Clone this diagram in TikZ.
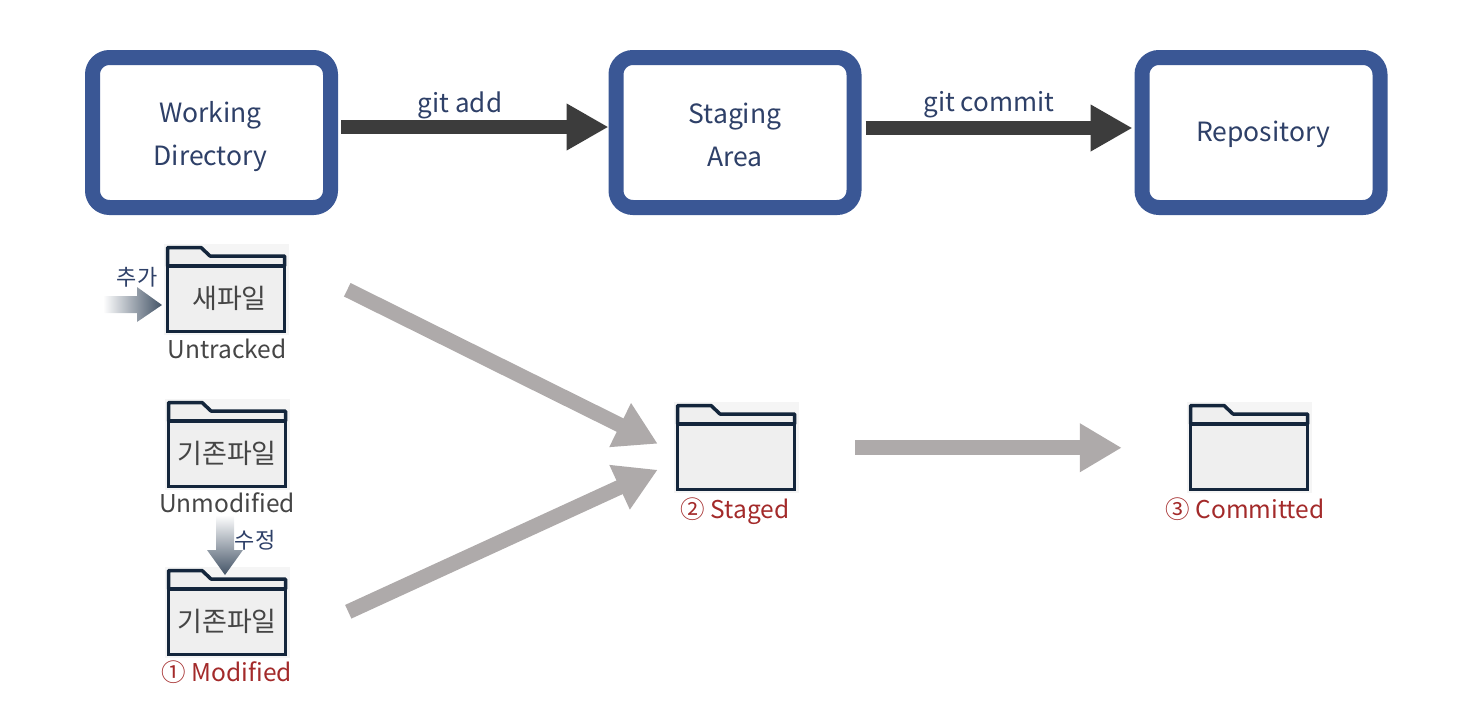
\documentclass[tikz,border=0pt]{standalone}
\usepackage{fontspec}
\setmainfont{Noto Sans CJK KR}
\usetikzlibrary{arrows.meta}

\definecolor{boxblue}{HTML}{3A5795}
\definecolor{boxtext}{HTML}{2E4068}
\definecolor{darkarrow}{HTML}{3C3C3C}
\definecolor{greyarrow}{HTML}{AEAAAA}
\definecolor{slatearrow}{HTML}{435366}
\definecolor{folderline}{HTML}{14263C}
\definecolor{folderfill}{HTML}{EFEFEF}
\definecolor{folderback}{HTML}{F5F5F5}
\definecolor{labeltext}{HTML}{454545}
\definecolor{statetext}{HTML}{A32A2A}

\tikzset{
  areabox/.style={draw=boxblue,fill=white,line width=15pt,rounded corners=17pt,minimum width=238pt,minimum height=150pt,inner sep=0pt},
  arealabel/.style={align=center,inner sep=0pt,text=boxtext,font=\fontsize{26.5}{43}\selectfont},
  folderbody/.style={draw=folderline,fill=folderfill,line width=3.5pt,minimum width=117pt,minimum height=65.5pt,inner sep=0pt,text=labeltext,font=\fontsize{27}{30}\selectfont},
  foldertab/.style={draw=folderline,fill=folderfill,line width=3.5pt,line join=round},
  cmdarrow/.style={draw=darkarrow,line width=14pt,-{Triangle[length=42pt,width=44pt]}},
  flowarrow/.style={draw=greyarrow,line width=15pt,-{Triangle[length=42pt,width=46pt]}},
  cmdlabel/.style={text=boxtext,inner sep=0pt,font=\fontsize{26}{30}\selectfont},
  filelabel/.style={text=labeltext,inner sep=0pt,font=\fontsize{24.5}{30}\selectfont},
  statelabel/.style={text=statetext,inner sep=0pt,font=\fontsize{24.5}{30}\selectfont},
  editlabel/.style={text=boxtext,inner sep=0pt,font=\fontsize{22}{26}\selectfont}
}

% name, left, top, text
\newcommand{\folder}[4]{
\fill[folderback] (#2-2,#3-2) rectangle (#2+123,#3+89);
\filldraw[foldertab] (#2+1.5,#3+20) -- (#2+1.5,#3+1.5) -- (#2+35,#3+1.5) -- (#2+44,#3+10) -- (#2+118.5,#3+10) -- (#2+118.5,#3+20) -- cycle;
\node[folderbody] (#1) at (#2+60,#3+52.75) {#4};
}

\begin{document}
\begin{tikzpicture}[x=1pt,y=-1pt]

\useasboundingbox (0,0) rectangle (1480,720);

% top row
\node[areabox] (workdir) at (211.5,132.5) {};
\node[areabox] (stagearea) at (735,132.5) {};
\node[areabox] (repo) at (1261,132.5) {};
\node[arealabel] (worktext) at (210.5,136.5) {Working\\Directory};
\node[arealabel] (stagetext) at (735,134.5) {Staging\\Area};
\node[arealabel] (repotext) at (1263,134.5) {Repository};

\draw[cmdarrow,shorten <=3pt] ([yshift=5.5pt]workdir.east) -- ([yshift=5.5pt]stagearea.west);
\draw[cmdarrow,shorten <=4pt,shorten >=2pt] ([yshift=4.5pt]stagearea.east) -- ([yshift=4.5pt]repo.west);
\node[cmdlabel] (addlabel) at (460,105) {git add};
\node[cmdlabel] (commitlabel) at (989,105) {git commit};

% folders
\folder{newfile}{166}{246}{\raisebox{-3pt}{\hspace*{7pt}새파일}}
\folder{cleanfile}{167}{401}{기존파일}
\folder{editedfile}{167}{569}{기존파일}
\folder{stagedfile}{676}{404}{}
\folder{committedfile}{1189}{404}{}

\node[filelabel] (untracked) at (227,349) {Untracked};
\node[filelabel] (unmodified) at (227,503) {Unmodified};
\node[statelabel] (modified) at (227,672) {① Modified};
\node[statelabel] (staged) at (735,511) {② Staged};
\node[statelabel] (committed) at (1245,509) {③ Committed};

% gradient arrows
\shade[left color=white,right color=slatearrow] (103,296) -- (137,296) -- (137,287) -- (162,305) -- (137,322) -- (137,313) -- (103,313) -- cycle;
\shade[top color=white,bottom color=slatearrow] (216,515) -- (234,515) -- (234,550) -- (243,550) -- (225,575) -- (207,550) -- (216,550) -- cycle;
\node[editlabel] (addtag) at (137,277) {추가};
\node[editlabel] (edittag) at (255,540) {수정};

% flow arrows
\draw[flowarrow] ([shift={(61,-9)}]newfile.east) -- ([shift={(-18,-13)}]stagedfile.west);
\draw[flowarrow] ([shift={(61,-10)}]editedfile.east) -- ([shift={(-18,13)}]stagedfile.west);
\draw[flowarrow] ([shift={(59,-9)}]stagedfile.east) -- ([shift={(-67,-9)}]committedfile.west);

\end{tikzpicture}
\end{document}
